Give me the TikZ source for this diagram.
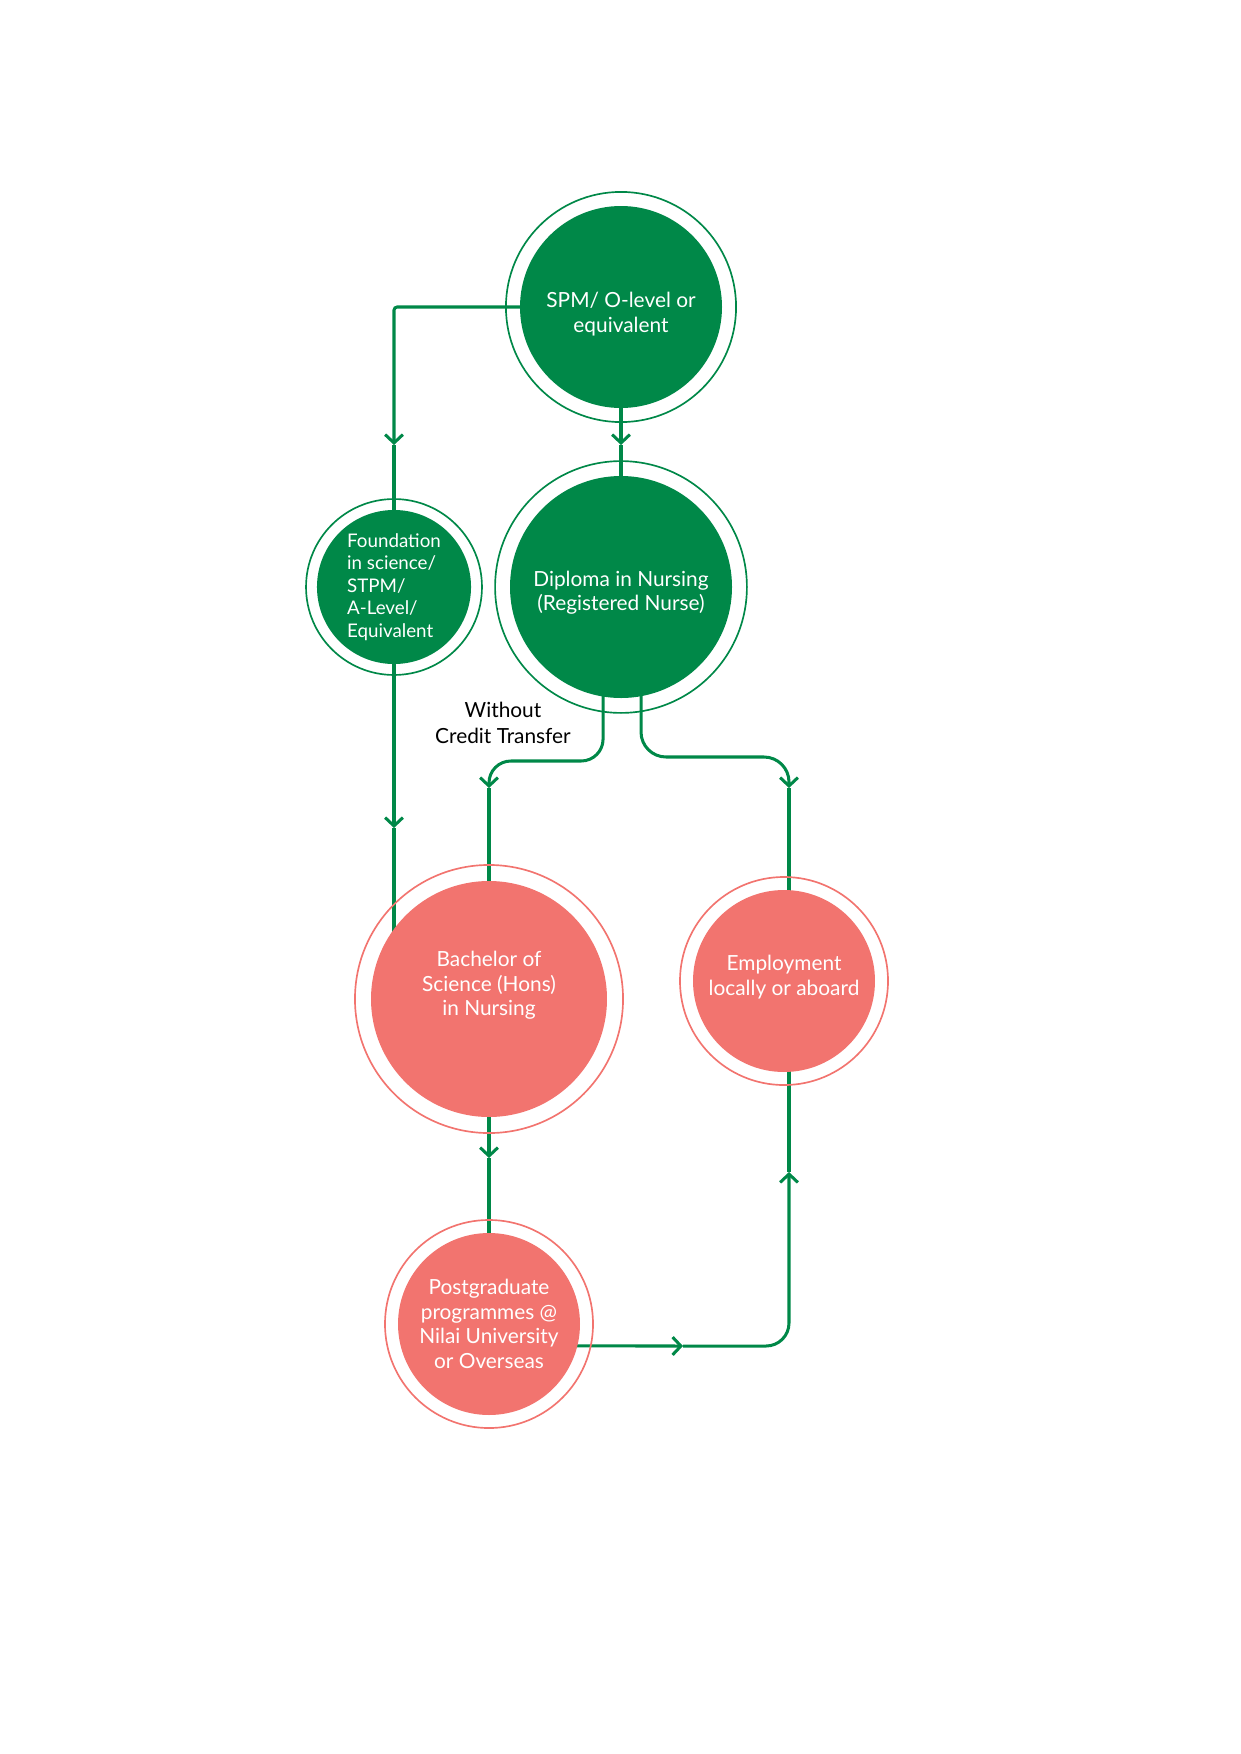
\documentclass[tikz,border=0pt]{standalone}
\usepackage{fontspec}
\setmainfont{Lato}
\usetikzlibrary{arrows.meta, backgrounds}
\definecolor{CG}{RGB}{0,136,72}
\definecolor{CP}{RGB}{242,116,111}

\begin{document}
\begin{tikzpicture}[x=0.4797pt, y=-0.4797pt,
  stage/.style={circle, fill=#1, text=white, align=center, inner sep=0pt,
                font=\fontsize{10}{11.8}\selectfont},
  ring/.style={draw=#1, line width=0.8pt},
  link/.style={draw=CG, line width=1.45pt},
  tip/.style={link, -{Straight Barb[length=4pt, width=8.5pt]}},
  note/.style={align=center, font=\fontsize{10}{12.5}\selectfont}
]
\useasboundingbox (0,0) rectangle (1241,1754);

% stages
\node[stage=CG, minimum size=96.9pt, text height=26pt]    (spm) at (621,307) {SPM/ O-level or\\equivalent};
\node[stage=CG, minimum size=106.5pt, text height=24.6pt] (dip) at (621,587) {Diploma in Nursing\\(Registered Nurse)};
\node[stage=CG, minimum size=73.9pt, align=left, font=\fontsize{9}{10.8}\selectfont]
  (fnd) at (394,587) {Foundation\\in science/\\STPM/\\A-Level/\\Equivalent};
\node[stage=CP, minimum size=113.2pt, text depth=15pt] (bsc) at (489,999) {Bachelor of\\Science (Hons)\\in Nursing};
\node[stage=CP, minimum size=87.3pt, text depth=5.6pt] (emp) at (784,981) {Employment\\locally or aboard};
\node[stage=CP, minimum size=87.3pt]  (pg)  at (489,1324) {Postgraduate\\programmes @\\Nilai University\\or Overseas};

\draw[ring=CG] (spm) circle[radius=55.2pt];
\draw[ring=CG] (dip) circle[radius=60.4pt];
\draw[ring=CG] (fnd) circle[radius=42.2pt];
\draw[ring=CP] (bsc) circle[radius=64.3pt];
\draw[ring=CP] (emp) circle[radius=49.9pt];
\draw[ring=CP] (pg)  circle[radius=49.9pt];

\node[note] (wct) at (503,723) {Without\\Credit Transfer};

% arrow points and bends
\coordinate (a1) at (394,445);
\coordinate (a2) at (621,445);
\coordinate (k3) at (489,761);
\coordinate (a3) at (489,788);
\coordinate (k4) at (789,757);
\coordinate (a4) at (789,788);
\coordinate (a5) at (394,828);
\coordinate (a6) at (489,1158);
\coordinate (a7) at (683,1346);
\coordinate (a8) at (789,1172);

\begin{scope}[on background layer]
\draw[tip, rounded corners=1.5pt] (spm.center) -| (a1);
\draw[link] (a1) -- (fnd.center);
\draw[tip] (spm.center) -- (a2);
\draw[link] (a2) -- (dip.center);
\draw[tip, rounded corners=10.5pt] ([xshift=-8.6pt]dip.center) |- (k3) -- (a3);
\draw[link] (a3) -- (bsc.center);
\draw[tip, rounded corners=12pt] ([xshift=9.6pt]dip.center) |- (k4) -- (a4);
\draw[link] (a4) -- (a4 |- emp.center);
\draw[tip] (fnd.center) -- (a5);
\draw[link] (a5) -- (a5 |- bsc.center);
\draw[tip] (bsc.center) -- (a6);
\draw[link] (a6) -- (pg.center);
\draw[tip] ([yshift=-10.5pt]pg.center) -- (a7);
\draw[tip, rounded corners=11pt] (a7) -| (a8);
\draw[link] (a8) -- (a8 |- emp.center);
\end{scope}
\end{tikzpicture}
\end{document}
